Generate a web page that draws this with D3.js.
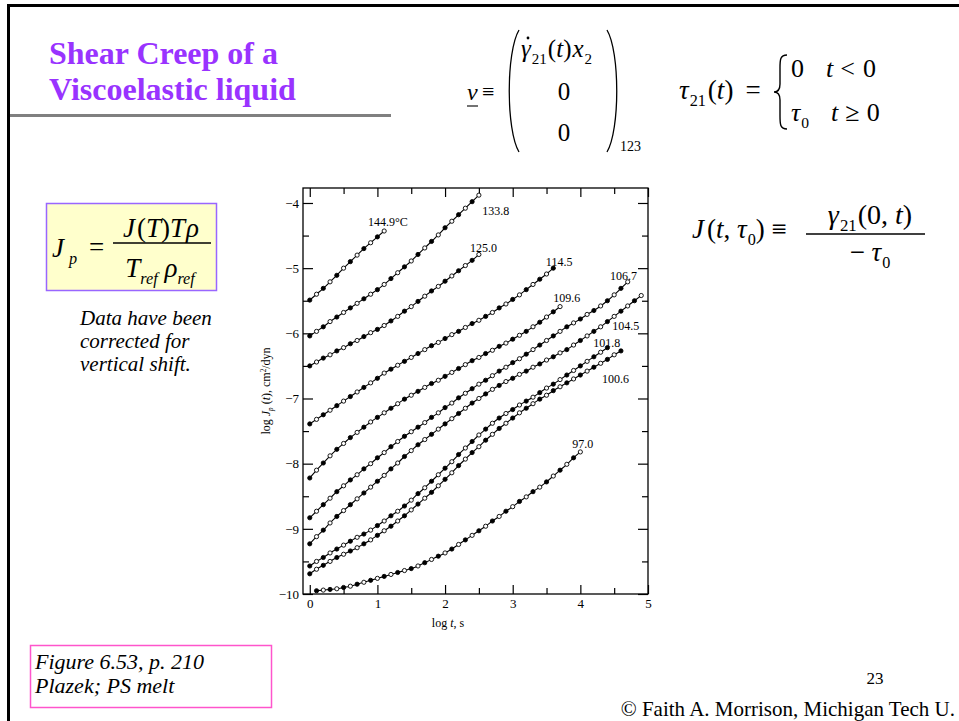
<!DOCTYPE html>
<html>
<head>
<meta charset="utf-8">
<script src="https://cdn.jsdelivr.net/npm/d3@7"></script>
<style>
  html, body { margin: 0; padding: 0; background: #ffffff; }
  svg { display: block; font-family: "Liberation Serif", "Times New Roman", serif; }
</style>
</head>
<body>
<svg id="slide" width="959" height="721"></svg>
<script>
// ---- Creep compliance of a polystyrene melt: log Jp(t) vs log t at several temperatures ----

// sampling grid in log t (s), shared by every isotherm
const logT = [0.0, 0.1, 0.2, 0.3, 0.4, 0.5, 0.6, 0.7, 0.8, 0.9,
              1.0, 1.1, 1.2, 1.3, 1.4, 1.5, 1.6, 1.7, 1.8, 1.9,
              2.0, 2.1, 2.2, 2.3, 2.4, 2.5, 2.6, 2.7, 2.8, 2.9,
              3.0, 3.1, 3.2, 3.3, 3.4, 3.5, 3.6, 3.7, 3.8, 3.9,
              4.0, 4.1, 4.2, 4.3, 4.4, 4.5, 4.6, 4.7, 4.8, 4.9];

// isotherm names (°C)
const temps = ["144.9°C", "133.8", "125.0", "114.5", "109.6", "106.7", "104.5", "101.8", "100.6", "97.0"];

// index into logT of the first reading of each isotherm
const firstIndex = [0, 0, 0, 0, 0, 0, 0, 0, 0, 1];

// log Jp (cm²/dyn) readings
const jp1449 = [-5.49, -5.40, -5.31, -5.21, -5.11, -5.00, -4.90, -4.80, -4.70, -4.61, -4.52, -4.43];
const jp1338 = [-6.04, -5.97, -5.90, -5.82, -5.75, -5.68, -5.61, -5.54, -5.47, -5.40,
                -5.33, -5.25, -5.16, -5.07, -4.98, -4.89, -4.79, -4.69, -4.59, -4.49,
                -4.38, -4.28, -4.18, -4.08, -3.98, -3.88];
const jp1250 = [-6.50, -6.44, -6.38, -6.33, -6.27, -6.22, -6.16, -6.11, -6.05, -5.99,
                -5.94, -5.88, -5.81, -5.74, -5.66, -5.59, -5.51, -5.43, -5.35, -5.28,
                -5.20, -5.12, -5.04, -4.96, -4.88, -4.79];
const jp1145 = [-7.39, -7.32, -7.25, -7.18, -7.11, -7.04, -6.97, -6.90, -6.83, -6.76,
                -6.69, -6.61, -6.55, -6.49, -6.43, -6.37, -6.31, -6.25, -6.19, -6.14,
                -6.08, -6.02, -5.97, -5.91, -5.85, -5.80, -5.74, -5.68, -5.61, -5.55,
                -5.48, -5.41, -5.33, -5.25, -5.17, -5.09, -5.00];
const jp1096 = [-8.22, -8.10, -7.99, -7.88, -7.78, -7.69, -7.60, -7.52, -7.44, -7.36,
                -7.29, -7.22, -7.15, -7.08, -7.01, -6.95, -6.89, -6.83, -6.77, -6.72,
                -6.66, -6.60, -6.54, -6.48, -6.42, -6.37, -6.31, -6.26, -6.20, -6.15,
                -6.09, -6.03, -5.97, -5.90, -5.83, -5.75, -5.67, -5.59];
const jp1067 = [-8.83, -8.73, -8.63, -8.53, -8.43, -8.34, -8.25, -8.17, -8.08, -8.00,
                -7.91, -7.83, -7.74, -7.66, -7.58, -7.51, -7.44, -7.37, -7.29, -7.22,
                -7.14, -7.07, -6.99, -6.92, -6.85, -6.78, -6.72, -6.65, -6.58, -6.52,
                -6.45, -6.39, -6.32, -6.25, -6.18, -6.11, -6.04, -5.97, -5.90, -5.84,
                -5.78, -5.71, -5.65, -5.58, -5.50, -5.41, -5.31, -5.21];
const jp1045 = [-9.23, -9.12, -9.02, -8.91, -8.81, -8.72, -8.63, -8.54, -8.45, -8.36,
                -8.27, -8.18, -8.08, -7.99, -7.89, -7.80, -7.71, -7.63, -7.55, -7.47,
                -7.39, -7.31, -7.23, -7.15, -7.07, -7.00, -6.93, -6.86, -6.80, -6.74,
                -6.69, -6.63, -6.58, -6.52, -6.47, -6.41, -6.36, -6.30, -6.25, -6.18,
                -6.11, -6.04, -5.97, -5.90, -5.82, -5.74, -5.66, -5.58, -5.50, -5.42];
const jp1018 = [-9.57, -9.50, -9.44, -9.37, -9.31, -9.25, -9.19, -9.13, -9.08, -9.02,
                -8.95, -8.88, -8.80, -8.73, -8.65, -8.56, -8.46, -8.37, -8.27, -8.17,
                -8.07, -7.97, -7.86, -7.76, -7.66, -7.56, -7.47, -7.38, -7.30, -7.23,
                -7.17, -7.10, -7.04, -6.98, -6.91, -6.84, -6.78, -6.71, -6.64, -6.57,
                -6.50, -6.43, -6.36, -6.29, -6.22];
const jp1006 = [-9.69, -9.62, -9.56, -9.50, -9.44, -9.39, -9.34, -9.29, -9.23, -9.17,
                -9.10, -9.03, -8.96, -8.88, -8.80, -8.71, -8.62, -8.53, -8.44, -8.34,
                -8.24, -8.14, -8.03, -7.93, -7.83, -7.74, -7.64, -7.55, -7.46, -7.38,
                -7.30, -7.22, -7.15, -7.08, -7.01, -6.95, -6.88, -6.82, -6.76, -6.70,
                -6.64, -6.58, -6.52, -6.46, -6.40, -6.33, -6.27];
const jp970  = [-9.95, -9.94, -9.93, -9.92, -9.90, -9.88, -9.85, -9.82, -9.79,
                -9.76, -9.73, -9.70, -9.67, -9.64, -9.61, -9.57, -9.52, -9.47, -9.42,
                -9.37, -9.31, -9.24, -9.17, -9.10, -9.03, -8.96, -8.88, -8.81, -8.73,
                -8.66, -8.58, -8.51, -8.43, -8.36, -8.28, -8.19, -8.10, -8.01, -7.91,
                -7.82];

const jpSeries = [jp1449, jp1338, jp1250, jp1145, jp1096, jp1067, jp1045, jp1018, jp1006, jp970];

// axis ticks
const xTicks = [0, 1, 2, 3, 4, 5];
const xMinorTicks = [0.5, 1.5, 2.5, 3.5, 4.5];
const yTicks = [-4, -5, -6, -7, -8, -9, -10];
const yMinorTicks = [-4.5, -5.5, -6.5, -7.5, -8.5, -9.5];

// ---- layout ----
const FRAME = { left: 303, right: 648, top: 188, bottom: 594 };
// where each isotherm's name sits, in (log t, log Jp)
const labelAnchor = [[0.86, -4.35], [2.55, -4.18], [2.37, -4.75], [3.49, -4.97], [3.60, -5.52],
                     [4.44, -5.18], [4.47, -5.95], [4.19, -6.21], [4.32, -6.76], [3.88, -7.76]];

const svg = d3.select("#slide");
const serif = '"Liberation Serif", "Times New Roman", serif';

// write a run of math text: parts are {t, it, sub, sup, dx}
function math(parent, x, y, size, parts, anchor) {
  const t = parent.append("text").attr("x", x).attr("y", y).attr("font-size", size)
    .attr("fill", "#000");
  if (anchor) t.attr("text-anchor", anchor);
  let shift = 0;
  parts.forEach(p => {
    const target = p.sub ? size * 0.26 : (p.sup ? -size * 0.36 : 0);
    const s = t.append("tspan").attr("dy", target - shift).text(p.t);
    shift = target;
    if (p.sub || p.sup) s.attr("font-size", size * 0.6);
    if (p.it) s.attr("font-style", "italic");
    if (p.dx) s.attr("dx", p.dx);
  });
  return t;
}

// ---- slide frame ----
svg.append("line").attr("x1", 7).attr("x2", 959).attr("y1", 5.5).attr("y2", 5.5)
  .attr("stroke", "#000").attr("stroke-width", 3);
svg.append("line").attr("x1", 8.5).attr("x2", 8.5).attr("y1", 4).attr("y2", 721)
  .attr("stroke", "#000").attr("stroke-width", 3);

// ---- title ----
const title = svg.append("g").attr("font-size", 32).attr("font-weight", "bold").attr("fill", "#9933ff");
title.append("text").attr("x", 49).attr("y", 64).text("Shear Creep of a");
title.append("text").attr("x", 49).attr("y", 100).text("Viscoelastic liquid");
svg.append("line").attr("x1", 10).attr("x2", 391).attr("y1", 115.5).attr("y2", 115.5)
  .attr("stroke", "#808080").attr("stroke-width", 3);

// ---- velocity field ----
const eq = svg.append("g");
math(eq, 467, 100, 24, [{ t: "v", it: 1 }]);
eq.append("line").attr("x1", 467).attr("x2", 478).attr("y1", 106).attr("y2", 106)
  .attr("stroke", "#000").attr("stroke-width", 1.1);
math(eq, 482, 99, 22, [{ t: "\u2261" }]);
eq.append("path").attr("d", "M519,30 C506,52 506,130 519,152").attr("fill", "none")
  .attr("stroke", "#000").attr("stroke-width", 1.3);
eq.append("path").attr("d", "M607,30 C620,52 620,130 607,152").attr("fill", "none")
  .attr("stroke", "#000").attr("stroke-width", 1.3);
math(eq, 521, 57, 25, [{ t: "\u03B3", it: 1 }, { t: "21", sub: 1, dx: 1 }, { t: "(", dx: 1 },
  { t: "t", it: 1 }, { t: ")" }, { t: "x", it: 1, dx: 1 }, { t: "2", sub: 1, dx: 1 }]);
eq.append("circle").attr("cx", 528).attr("cy", 38).attr("r", 1.4).attr("fill", "#000");
math(eq, 564, 100, 25, [{ t: "0" }], "middle");
math(eq, 564, 141, 25, [{ t: "0" }], "middle");
math(eq, 620, 151, 14, [{ t: "123" }]);

// ---- applied stress ----
math(eq, 679, 99, 27, [{ t: "\u03C4", it: 1 }, { t: "21", sub: 1, dx: 1 }, { t: "(", dx: 2 },
  { t: "t", it: 1 }, { t: ")" }, { t: "=", dx: 12 }]);
eq.append("path")
  .attr("d", "M787,55 C780,55 780,60 780,68 L780,84 C780,89 778,92 774,92 C778,92 780,95 780,100 L780,116 C780,124 780,129 787,129")
  .attr("fill", "none").attr("stroke", "#000").attr("stroke-width", 1.4);
math(eq, 791, 77, 26, [{ t: "0" }, { t: "t", it: 1, dx: 22 }, { t: "<", dx: 7 }, { t: "0", dx: 8 }]);
math(eq, 791, 121, 26, [{ t: "\u03C4", it: 1 }, { t: "0", sub: 1, dx: 1 }, { t: "t", it: 1, dx: 22 },
  { t: "\u2265", dx: 7 }, { t: "0", dx: 7 }]);

// ---- compliance definition ----
const jd = svg.append("g");
math(jd, 692, 238, 27, [{ t: "J", it: 1 }, { t: "(", dx: 3 }, { t: "t", it: 1 }, { t: ", " },
  { t: "\u03C4", it: 1 }, { t: "0", sub: 1, dx: 1 }, { t: ")" }, { t: " \u2261" }]);
jd.append("line").attr("x1", 806).attr("x2", 925).attr("y1", 234).attr("y2", 234)
  .attr("stroke", "#000").attr("stroke-width", 1.3);
math(jd, 870, 224, 28, [{ t: "\u03B3", it: 1 }, { t: "21", sub: 1, dx: 1 }, { t: "(0, ", dx: 1 },
  { t: "t", it: 1 }, { t: ")" }], "middle");
math(jd, 870, 261, 27, [{ t: "\u2212 " }, { t: "\u03C4", it: 1 }, { t: "0", sub: 1, dx: 1 }], "middle");

// ---- reduced compliance box ----
const jb = svg.append("g");
jb.append("rect").attr("x", 46.5).attr("y", 203.5).attr("width", 170).attr("height", 87)
  .attr("fill", "#ffffcc").attr("stroke", "#9966ff").attr("stroke-width", 1.5);
math(jb, 52, 257, 27, [{ t: "J", it: 1 }, { t: "p", it: 1, sub: 1, dx: 5 }]);
math(jb, 89, 256, 27, [{ t: "=" }]);
math(jb, 161, 237, 27, [{ t: "J", it: 1 }, { t: "(", dx: 2 }, { t: "T", it: 1 }, { t: ")" },
  { t: "T", it: 1 }, { t: "\u03C1", it: 1, dx: 1 }], "middle");
jb.append("line").attr("x1", 113).attr("x2", 211).attr("y1", 243).attr("y2", 243)
  .attr("stroke", "#000").attr("stroke-width", 1.3);
math(jb, 160, 277, 27, [{ t: "T", it: 1 }, { t: "ref", it: 1, sub: 1 }, { t: " \u03C1", it: 1 },
  { t: "ref", it: 1, sub: 1 }], "middle");

const note = svg.append("g").attr("font-size", 21).attr("font-style", "italic").attr("fill", "#000");
["Data have been", "corrected for", "vertical shift."].forEach((s, i) =>
  note.append("text").attr("x", 80).attr("y", 325 + i * 23).text(s));

// ---- source box & footer ----
svg.append("rect").attr("x", 30.5).attr("y", 645.5).attr("width", 241).attr("height", 62)
  .attr("fill", "none").attr("stroke", "#ff55cc").attr("stroke-width", 1.5);
const src = svg.append("g").attr("font-size", 22).attr("font-style", "italic").attr("fill", "#000");
src.append("text").attr("x", 35).attr("y", 669).text("Figure 6.53, p. 210");
src.append("text").attr("x", 35).attr("y", 693).text("Plazek; PS melt");
svg.append("text").attr("x", 875).attr("y", 684).attr("text-anchor", "middle")
  .attr("font-size", 17).text("23");
svg.append("text").attr("x", 955).attr("y", 716).attr("text-anchor", "end")
  .attr("font-size", 21).text("\u00A9 Faith A. Morrison, Michigan Tech U.");

// ---- chart ----
const x = d3.scaleLinear().domain([-0.1, 5]).range([FRAME.left, FRAME.right]);
const y = d3.scaleLinear().domain([-10, -3.77]).range([FRAME.bottom, FRAME.top]);

const chart = svg.append("g").attr("font-family", serif);

// inward ticks on all four sides
function axisGroup(axis, tx, ty) {
  const g = chart.append("g").attr("transform", `translate(${tx},${ty})`).call(axis);
  g.select(".domain").remove();
  g.selectAll(".tick line").attr("stroke", "#000").attr("stroke-width", 1.2);
  g.selectAll("text").attr("font-family", serif).attr("fill", "#000");
  return g;
}
const minus = d => d < 0 ? "\u2212" + Math.abs(d) : String(d);

axisGroup(d3.axisLeft(y).tickValues(yTicks).tickSize(-10).tickPadding(4).tickFormat(minus), FRAME.left, 0)
  .selectAll("text").attr("font-size", 13);
axisGroup(d3.axisLeft(y).tickValues(yMinorTicks).tickSize(-6).tickFormat(""), FRAME.left, 0);
axisGroup(d3.axisRight(y).tickValues(yTicks).tickSize(-10).tickFormat(""), FRAME.right, 0);
axisGroup(d3.axisRight(y).tickValues(yMinorTicks).tickSize(-6).tickFormat(""), FRAME.right, 0);
axisGroup(d3.axisBottom(x).tickValues(xTicks).tickSize(-9).tickPadding(5).tickFormat(d3.format("d")), 0, FRAME.bottom)
  .selectAll("text").attr("font-size", 13);
axisGroup(d3.axisBottom(x).tickValues(xMinorTicks).tickSize(-6).tickFormat(""), 0, FRAME.bottom);
axisGroup(d3.axisTop(x).tickValues(xTicks).tickSize(-9).tickFormat(""), 0, FRAME.top);
axisGroup(d3.axisTop(x).tickValues(xMinorTicks).tickSize(-6).tickFormat(""), 0, FRAME.top);

chart.append("rect").attr("x", FRAME.left).attr("y", FRAME.top)
  .attr("width", FRAME.right - FRAME.left).attr("height", FRAME.bottom - FRAME.top)
  .attr("fill", "none").attr("stroke", "#000").attr("stroke-width", 1.3);

// axis titles
math(chart, 448, 627, 12, [{ t: "log " }, { t: "t", it: 1 }, { t: ", s" }], "middle");
math(chart.append("g").attr("transform", "translate(270,391) rotate(-90)"), 0, 0, 12,
  [{ t: "log " }, { t: "J", it: 1 }, { t: "p", it: 1, sub: 1 }, { t: " (" }, { t: "t", it: 1 },
   { t: "), cm" }, { t: "2", sup: 1 }, { t: "/dyn" }], "middle");

// isotherms
const line = d3.line().x(d => x(d[0])).y(d => y(d[1])).curve(d3.curveMonotoneX);
jpSeries.forEach((vals, k) => {
  const pts = vals.map((v, i) => [logT[firstIndex[k] + i], v]);
  const g = chart.append("g");
  g.append("path").attr("d", line(pts)).attr("fill", "none")
    .attr("stroke", "#000").attr("stroke-width", 1.1);
  g.selectAll("circle").data(pts).join("circle")
    .attr("cx", d => x(d[0])).attr("cy", d => y(d[1])).attr("r", 2.1)
    .attr("fill", (d, i) => (i % 2 === 0 ? "#000" : "#fff"))
    .attr("stroke", "#000").attr("stroke-width", 0.9);
  chart.append("text").attr("x", x(labelAnchor[k][0])).attr("y", y(labelAnchor[k][1]))
    .attr("font-size", 12).attr("fill", "#000").text(temps[k]);
});
</script>
</body>
</html>
